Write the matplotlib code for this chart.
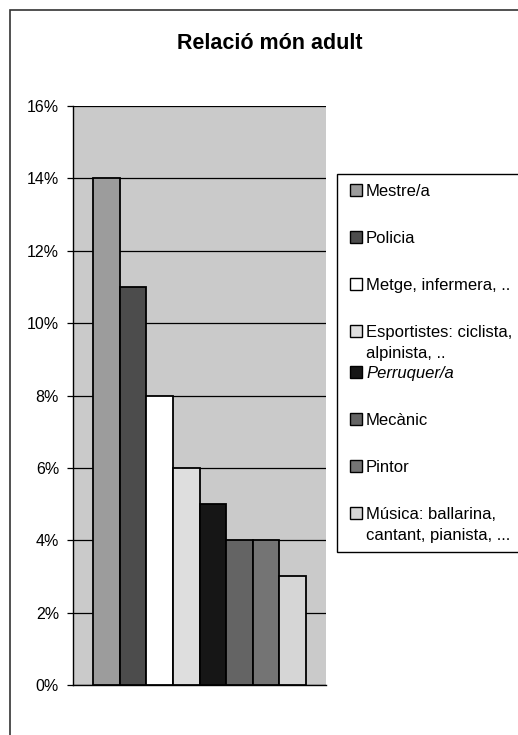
import matplotlib
matplotlib.use("Agg")
import matplotlib.pyplot as plt
import matplotlib.patches as mpatches
from matplotlib.ticker import FuncFormatter
import numpy as np

plt.rcParams['font.family'] = ['Liberation Sans', 'DejaVu Sans']

title = "Relació món adult"
categories = ["Mestre/a", "Policia", "Metge, infermera, ..",
              "Esportistes: ciclista,\nalpinista, ..", "Perruquer/a",
              "Mecànic", "Pintor", "Música: ballarina,\ncantant, pianista, ..."]
values = [14, 11, 8, 6, 5, 4, 4, 3]  # percent
colors = ["#9c9c9c", "#4c4c4c", "#ffffff", "#dedede", "#161616",
          "#646464", "#747474", "#d6d6d6"]
yticks = [0, 2, 4, 6, 8, 10, 12, 14, 16]

W, H = 518, 735
fig = plt.figure(figsize=(W / 100, H / 100), dpi=100)
fig.patch.set_facecolor("white")


def fx(px):
    return px / W


def fy(py):
    return 1 - py / H


# outer chart frame
fig.patches.append(mpatches.Rectangle((fx(10), -0.01), 1.0, fy(10) + 0.01,
                                      transform=fig.transFigure, fill=False,
                                      edgecolor="#333333", linewidth=1.2))

ax = fig.add_axes([fx(73), fy(685), (326 - 73) / W, (685 - 106) / H])
ax.set_facecolor("#cacaca")

x = np.arange(len(values))
for i, (v, c, lab) in enumerate(zip(values, colors, categories)):
    ax.bar(x[i], v, width=1.0, color=c, edgecolor="black", linewidth=1.3,
           label=lab, zorder=3)

ax.set_xlim(-1.25, len(values) - 1 + 1.25)
ax.set_ylim(yticks[0], yticks[-1])
ax.set_yticks(yticks)
ax.yaxis.set_major_formatter(FuncFormatter(lambda v, p: f"{v:.0f}%"))
ax.grid(axis="y", color="black", linewidth=0.9, zorder=1)
ax.set_axisbelow(True)
ax.set_xticks([])
for s in ["top", "right"]:
    ax.spines[s].set_visible(False)
ax.spines["left"].set_linewidth(1.0)
ax.spines["bottom"].set_linewidth(1.0)
ax.tick_params(axis="y", direction="out", length=4, width=0.9, pad=6,
               labelsize=11.5, colors="black")

fig.text(fx(269.5), fy(49), title, ha="center", va="baseline",
         fontsize=15.5, fontweight="bold")

# legend box (Excel style: marker aligned with the first line of each entry)
leg_left, leg_top, leg_bottom = 337, 174, 552
fig.patches.append(mpatches.Rectangle((fx(leg_left), fy(leg_bottom)),
                                      1.0, (leg_bottom - leg_top) / H,
                                      transform=fig.transFigure,
                                      facecolor="white", edgecolor="black",
                                      linewidth=1.0, zorder=5))
y_row = 190.0
box = 12
line_step = 21
for lab, c in zip(categories, colors):
    fig.patches.append(mpatches.Rectangle((fx(349.5), fy(y_row + box / 2)),
                                          box / W, box / H,
                                          transform=fig.transFigure,
                                          facecolor=c, edgecolor="black",
                                          linewidth=1.0, zorder=6))
    style = "italic" if lab == "Perruquer/a" else "normal"
    for k, line in enumerate(lab.split("\n")):
        fig.text(fx(366), fy(y_row + 6 + k * line_step), line, ha="left",
                 va="baseline", fontsize=12, fontstyle=style, zorder=6)
    y_row += 41 if "\n" in lab else 47

fig.savefig("out.png", dpi=100)
